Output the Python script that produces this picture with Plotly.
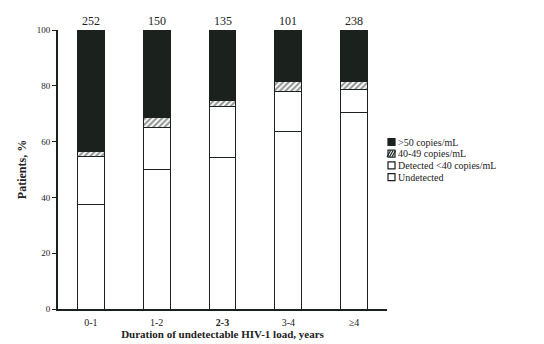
import plotly.graph_objects as go

categories = ["0-1", "1-2", "<b>2-3</b>", "3-4", "≥4"]
n_patients = [252, 150, 135, 101, 238]
undetected = [37.6, 50.0, 54.2, 63.8, 70.4]
detected_lt40 = [17.2, 15.0, 18.3, 14.1, 8.3]
copies_40_49 = [1.8, 3.7, 2.1, 3.8, 2.8]
copies_gt50 = [43.4, 31.3, 25.4, 18.3, 18.5]
legend_labels = [">50 copies/mL", "40-49 copies/mL", "Detected <40 copies/mL", "Undetected"]

font_family = "Liberation Serif"
black = "#1b211d"
txt = "#222222"

fig = go.Figure()
line = dict(color=black, width=1)
fig.add_bar(x=categories, y=undetected, name=legend_labels[3],
            marker=dict(color="white", line=line))
fig.add_bar(x=categories, y=detected_lt40, name=legend_labels[2],
            marker=dict(color="white", line=line))
fig.add_bar(x=categories, y=copies_40_49, name=legend_labels[1],
            marker=dict(color="white", line=line,
                        pattern=dict(shape="/", fgcolor=black, bgcolor="white",
                                     size=4, solidity=0.5)))
fig.add_bar(x=categories, y=copies_gt50, name=legend_labels[0],
            marker=dict(color=black, line=line))

for c, n in zip(categories, n_patients):
    fig.add_annotation(x=c, y=100, text=str(n), showarrow=False,
                       yanchor="bottom", yshift=0,
                       font=dict(family=font_family, size=12, color=txt))

# Compact legend drawn in paper coordinates (plotly's legend rows are too tall)
W, H = 544, 344
ml, mr, mt, mb = 58, 157, 30, 35
pw, ph = W - ml - mr, H - mt - mb
def px_x(x): return (x - ml) / pw
def px_y(y): return (H - mb - y) / ph

fills = [black, "white", "white", "white"]
for i, (lab, f) in enumerate(zip(legend_labels, fills)):
    yc = 142 + i * 11.7
    fig.add_shape(type="rect", xref="paper", yref="paper",
                  x0=px_x(388), x1=px_x(395), y0=px_y(yc - 3.5), y1=px_y(yc + 3.5),
                  line=dict(color=black, width=1.2), fillcolor=f)
    if i == 1:
        for k in range(3):
            a = 388 + k * 2.5
            fig.add_shape(type="line", xref="paper", yref="paper",
                          x0=px_x(a - 1), x1=px_x(a + 2.5), y0=px_y(yc + 3), y1=px_y(yc - 3),
                          line=dict(color=black, width=1.2))
    fig.add_annotation(xref="paper", yref="paper", x=px_x(396), y=px_y(yc),
                       xanchor="left", yanchor="middle", showarrow=False, text=lab,
                       font=dict(family=font_family, size=10, color=txt))

fig.update_layout(
    barmode="stack",
    bargap=0.59,
    width=W, height=H,
    margin=dict(l=ml, r=mr, t=mt, b=mb, autoexpand=False),
    paper_bgcolor="white", plot_bgcolor="white",
    font=dict(family=font_family, size=10, color=txt),
    showlegend=False,
    xaxis=dict(showline=True, linecolor=black, linewidth=2, ticks="",
               automargin=False, ticklabelstandoff=3,
               tickfont=dict(size=10),
               title=dict(text="<b>Duration of undetectable HIV-1 load, years</b>",
                          font=dict(size=11), standoff=2)),
    yaxis=dict(range=[0, 100], showline=True, linecolor=black, linewidth=2,
               automargin=False,
               ticks="outside", ticklen=4, tickcolor=black, dtick=20,
               showgrid=False, zeroline=False, tickfont=dict(size=9),
               title=dict(text="<b>Patients, %</b>", font=dict(size=12), standoff=8)),
)

fig.write_html("out.html", config={"displayModeBar": False},
               post_script="document.body.style.margin='0';")
